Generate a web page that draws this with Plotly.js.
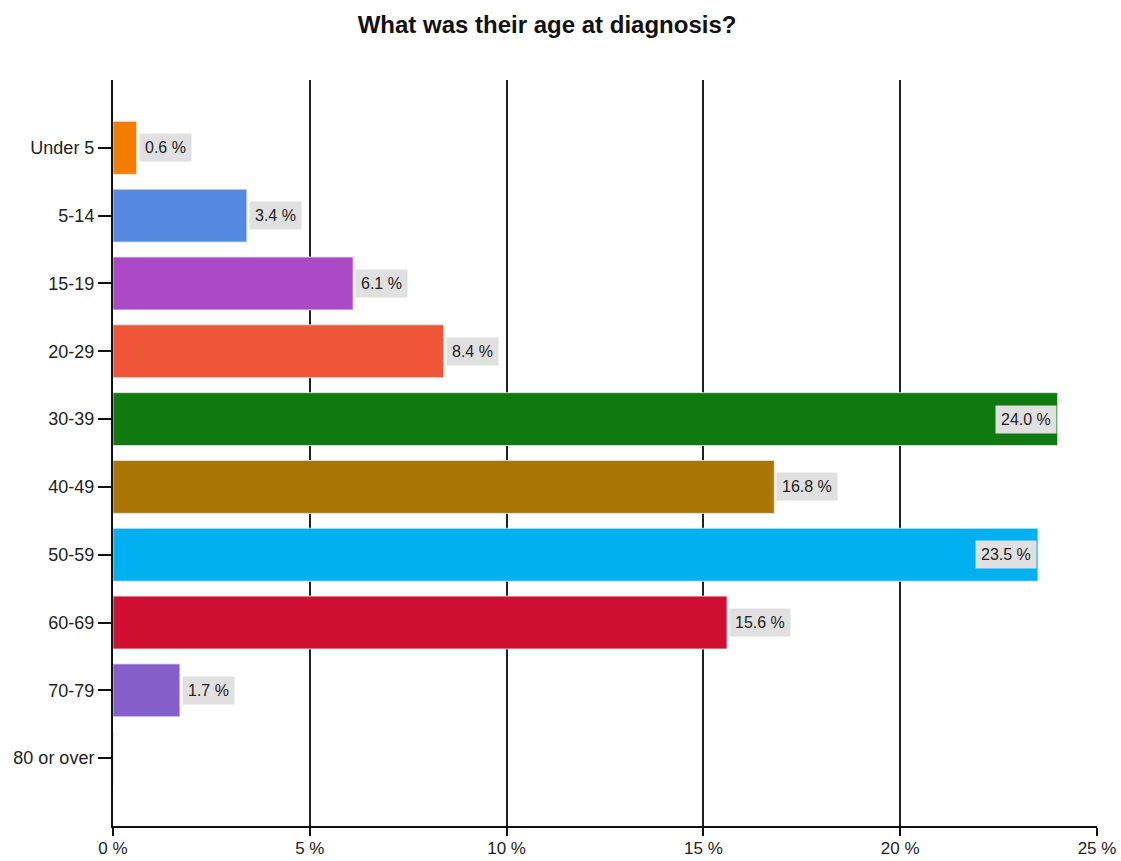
<!DOCTYPE html>
<html>
<head>
<meta charset="utf-8">
<script src="https://cdn.plot.ly/plotly-3.0.1.min.js"></script>
<style>
  html, body { margin: 0; padding: 0; background: #fff; }
  #chart { width: 1121px; height: 861px; }
</style>
</head>
<body>
<div id="chart"></div>
<script>
// Age at diagnosis, share of respondents (%)
const ageGroups = ['Under 5', '5-14', '15-19', '20-29', '30-39', '40-49', '50-59', '60-69', '70-79', '80 or over'];
const shares    = [0.6, 3.4, 6.1, 8.4, 24.0, 16.8, 23.5, 15.6, 1.7, 0];
const barColors = ['#f27d00', '#568ae0', '#ab48c6', '#ef5638', '#107a10', '#a97606', '#00b0f0', '#cf0f30', '#8560cc', '#888888'];
const xTickVals = [0, 5, 10, 15, 20, 25];
const xTickText = ['0 %', '5 %', '10 %', '15 %', '20 %', '25 %'];

const fontFamily = '"Liberation Sans", Arial, sans-serif';

const bars = {
  type: 'bar',
  orientation: 'h',
  y: ageGroups,
  x: shares,
  width: 0.78,
  marker: { color: barColors, line: { color: 'rgba(225,225,225,0.9)', width: 1 } },
  hoverinfo: 'skip'
};

// value labels on a grey tag: beside the bar, or tucked inside its end when the bar is long
const labels = ageGroups
  .map((g, i) => ({ g, v: shares[i] }))
  .filter(d => d.v > 0)
  .map(d => {
    const inside = d.v > 22;
    return {
      x: d.v, y: d.g, xref: 'x', yref: 'y',
      text: d.v.toFixed(1) + ' %',
      showarrow: false,
      xanchor: inside ? 'right' : 'left',
      xshift: inside ? -1 : 2,
      bgcolor: '#e0e0e0',
      borderpad: 5,
      font: { family: fontFamily, size: 16, color: '#222' }
    };
  });

const edgeTicks = [
  // short stub at the top of the category axis
  { type: 'line', xref: 'x', yref: 'paper', xsizemode: 'pixel', xanchor: 0,
    x0: -13, x1: 0, y0: 1, y1: 1, line: { color: '#111', width: 2 } },
  // bottom axis line carried past the category axis
  { type: 'line', xref: 'x', yref: 'paper', xsizemode: 'pixel', xanchor: 0,
    x0: -13, x1: 0, y0: 0, y1: 0, line: { color: '#111', width: 2 } }
];

const layout = {
  width: 1121, height: 861,
  margin: { l: 113, r: 24, t: 80, b: 35 },
  paper_bgcolor: '#fff', plot_bgcolor: '#fff',
  showlegend: false,
  title: {
    text: '<b>What was their age at diagnosis?</b>',
    x: 0.488, xanchor: 'center', y: 0.972, yanchor: 'middle',
    font: { family: fontFamily, size: 24, color: '#111' }
  },
  xaxis: {
    range: [0, 25], fixedrange: true,
    tickvals: xTickVals, ticktext: xTickText,
    showgrid: true, gridcolor: '#222', gridwidth: 2,
    zeroline: false,
    showline: true, linecolor: '#111', linewidth: 2,
    ticks: 'outside', ticklen: 8, tickwidth: 2, tickcolor: '#111',
    ticklabelstandoff: -2,
    tickfont: { family: fontFamily, size: 17, color: '#222' }
  },
  yaxis: {
    type: 'category',
    categoryorder: 'array', categoryarray: ageGroups,
    range: [10, -1], fixedrange: true,
    showgrid: false, zeroline: false,
    showline: true, linecolor: '#111', linewidth: 2,
    ticks: 'outside', ticklen: 13, tickwidth: 2, tickcolor: '#111',
    ticklabelstandoff: 0,
    tickfont: { family: fontFamily, size: 18, color: '#222' }
  },
  annotations: labels,
  shapes: edgeTicks
};

Plotly.newPlot('chart', [bars], layout, { displayModeBar: false, staticPlot: true });
</script>
</body>
</html>
